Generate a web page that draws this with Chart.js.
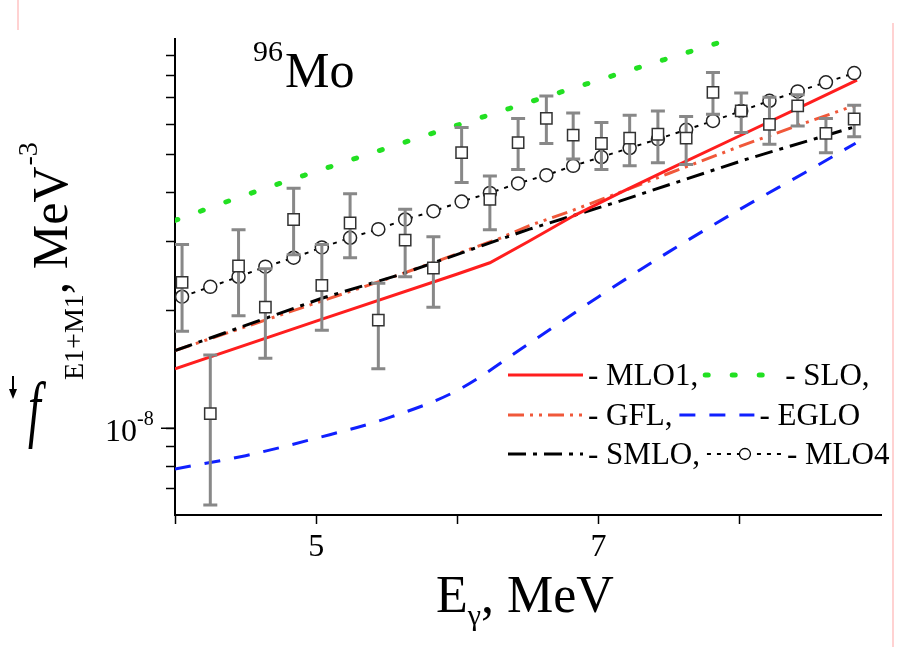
<!DOCTYPE html>
<html>
<head>
<meta charset="utf-8">
<script src="https://cdn.jsdelivr.net/npm/chart.js@4.4.1/dist/chart.umd.min.js"></script>
<style>
  html, body { margin: 0; padding: 0; background: #fff; }
  canvas { display: block; }
</style>
</head>
<body>
<canvas id="chart" width="910" height="647"></canvas>
<script>
// all strength values are in units of 1e-8 MeV^-3
const SCALE = 1e-8;

// EXPERIMENT (squares with error bars) + MLO4 (circles) share the energies
const expEnergy = [4.05, 4.25, 4.45, 4.64, 4.84, 5.04, 5.24, 5.44, 5.63, 5.83, 6.03, 6.23, 6.43,
                   6.63, 6.82, 7.02, 7.22, 7.42, 7.62, 7.81, 8.01, 8.21, 8.41, 8.61, 8.81];
const expF    = [2.36, 1.09, 2.60, 2.04, 3.42, 2.32, 3.35, 1.89, 3.03, 2.57, 5.07, 3.85, 5.38,
                 6.20, 5.62, 5.35, 5.52, 5.65, 5.52, 7.23, 6.48, 5.99, 6.68, 5.68, 6.18];
const expLow  = [1.77, 0.636, 1.94, 1.51, 2.78, 1.78, 2.73, 1.42, 2.44, 2.04, 4.25, 3.22, 4.59,
                 5.35, 4.88, 4.59, 4.69, 4.78, 4.73, 6.36, 5.71, 5.33, 5.93, 5.07, 5.57];
const expHigh = [2.95, 1.54, 3.22, 2.56, 4.11, 2.95, 3.98, 2.35, 3.63, 3.09, 5.88, 4.42, 6.20,
                 7.08, 6.40, 6.05, 6.32, 6.48, 6.27, 8.13, 7.20, 7.02, 7.13, 6.20, 6.70];
const mlo4F   = [2.17, 2.30, 2.44, 2.59, 2.73, 2.90, 3.07, 3.23, 3.42, 3.59, 3.80, 4.00, 4.23,
                 4.44, 4.69, 4.94, 5.21, 5.49, 5.80, 6.11, 6.48, 6.88, 7.27, 7.67, 8.10];

// MODEL CURVES
const mlo1E = [4.0, 5.0, 6.0, 6.23, 6.5, 6.82, 7.15, 7.5, 8.0, 8.5, 8.83];
const mlo1F = [1.42, 1.88, 2.48, 2.65, 3.00, 3.49, 4.00, 4.60, 5.60, 6.82, 7.77];

const gflE = [4.0, 5.59, 6.3, 6.51, 6.8, 7.15, 7.5, 8.0, 8.4, 8.82];
const gflF = [1.58, 2.47, 3.06, 3.30, 3.59, 4.01, 4.49, 5.26, 5.93, 6.70];

const smloE = [4.0, 5.04, 5.59, 6.3, 6.51, 7.15, 7.36, 8.05, 8.8];
const smloF = [1.58, 2.15, 2.47, 3.04, 3.23, 3.81, 4.04, 4.88, 5.88];

const egloE = [4.0, 4.5, 5.0, 5.5, 6.0, 6.5, 7.0, 7.5, 8.0, 8.5, 8.82];
const egloF = [0.787, 0.851, 0.943, 1.06, 1.25, 1.64, 2.17, 2.83, 3.63, 4.59, 5.36];

const sloE = [4.0, 4.5, 5.0, 6.0, 7.0, 8.0];
const sloF = [3.40, 3.95, 4.54, 5.96, 7.77, 10.07];

// AXES
const xMin = 4, xMax = 9;
const xTickValues = [4, 5, 6, 7, 8];
const xLabelValues = [5, 7];
const yMin = 6e-9, yMax = 9.9e-8;
const yTickValues = [7e-9, 8e-9, 9e-9, 1e-8, 2e-8, 3e-8, 4e-8, 5e-8, 6e-8, 7e-8, 8e-8, 9e-8];
const yMajorTick = 1e-8;

const SERIF = '"Liberation Serif", "Times New Roman", serif';

function pts(xs, ys) {
  return xs.map((x, i) => ({ x: x, y: ys[i] * SCALE }));
}

// legend layout: two entries per row
const legendRows = [["MLO1", "SLO"], ["GFL", "EGLO"], ["SMLO", "MLO4"]];
const legendText = {
  MLO1: "- MLO1,", SLO: "- SLO,", GFL: "- GFL,",
  EGLO: "- EGLO", SMLO: "- SMLO,", MLO4: "- MLO4"
};

// ========== ERROR BARS ==========
const errorBarPlugin = {
  id: "errorBars",
  beforeDatasetDraw(chart, args) {
    if (chart.data.datasets[args.index].label !== "exp") return;
    const ctx = chart.ctx, xs = chart.scales.x, ys = chart.scales.y;
    ctx.save();
    ctx.strokeStyle = "#888888";
    ctx.lineWidth = 3;
    for (let i = 0; i < expEnergy.length; i++) {
      const px = xs.getPixelForValue(expEnergy[i]);
      const top = ys.getPixelForValue(expHigh[i] * SCALE);
      const bot = ys.getPixelForValue(expLow[i] * SCALE);
      ctx.beginPath();
      ctx.moveTo(px, top); ctx.lineTo(px, bot);
      ctx.moveTo(px - 7, top); ctx.lineTo(px + 7, top);
      ctx.moveTo(px - 7, bot); ctx.lineTo(px + 7, bot);
      ctx.stroke();
    }
    ctx.restore();
  }
};

// ========== TEXTS, LEGEND, EXTRA TICK ==========
const decorPlugin = {
  id: "decor",
  beforeDraw(chart) {
    const ctx = chart.ctx;
    ctx.save();
    ctx.fillStyle = "#fff";
    ctx.fillRect(0, 0, chart.width, chart.height);
    ctx.restore();
  },
  afterDraw(chart) {
    const ctx = chart.ctx;
    const ca = chart.chartArea;
    const ys = chart.scales.y;
    ctx.save();
    ctx.fillStyle = "#000";
    ctx.strokeStyle = "#000";
    ctx.textBaseline = "alphabetic";

    // longer major tick + 10^-8 label
    const yMaj = ys.getPixelForValue(yMajorTick);
    ctx.lineWidth = 1.5;
    ctx.beginPath();
    ctx.moveTo(ca.left - 14, yMaj); ctx.lineTo(ca.left, yMaj);
    ctx.stroke();
    ctx.font = "32px " + SERIF;
    ctx.fillText("10", 105, yMaj + 13);
    ctx.font = "20px " + SERIF;
    ctx.fillText("-8", 137, yMaj - 3);

    // nucleus label
    ctx.font = "30px " + SERIF;
    ctx.fillText("96", 253, 61);
    ctx.font = "50px " + SERIF;
    ctx.fillText("Mo", 285, 87);

    // x title
    let tx = 436;
    ctx.font = "52px " + SERIF;
    ctx.fillText("E", tx, 612);
    tx += ctx.measureText("E").width;
    ctx.font = "30px " + SERIF;
    ctx.fillText("\u03b3", tx, 625);
    tx += ctx.measureText("\u03b3").width;
    ctx.font = "52px " + SERIF;
    ctx.fillText(", MeV", tx, 612);

    // y title: stretched italic f with arrow, then rotated rest
    ctx.save();
    ctx.translate(28, 433);
    ctx.scale(1, 1.6);
    ctx.font = "italic 46px " + SERIF;
    ctx.fillText("f", 0, 0);
    ctx.restore();
    ctx.lineWidth = 2;
    ctx.beginPath();
    ctx.moveTo(13, 376); ctx.lineTo(13, 396);
    ctx.stroke();
    ctx.beginPath();
    ctx.moveTo(13, 399); ctx.lineTo(9, 389); ctx.lineTo(17, 389); ctx.closePath();
    ctx.fill();
    ctx.save();
    ctx.translate(67, 452);
    ctx.rotate(-Math.PI / 2);
    let rx = 72;
    ctx.font = "28px " + SERIF;
    ctx.fillText("E1+M1", rx, 16);
    rx += ctx.measureText("E1+M1").width;
    ctx.font = "50px " + SERIF;
    ctx.fillText(", MeV", rx, 0);
    rx += ctx.measureText(", MeV").width;
    ctx.font = "28px " + SERIF;
    ctx.fillText("-3", rx + 1, -30);
    ctx.restore();

    // legend
    const rowY = [375, 415, 454];
    const byLabel = {};
    chart.data.datasets.forEach(d => { byLabel[d.label] = d; });
    ctx.font = "31px " + SERIF;
    legendRows.forEach((row, r) => {
      let lx = 508;
      const ly = rowY[r];
      row.forEach(name => {
        const d = byLabel[name];
        ctx.save();
        ctx.strokeStyle = d.borderColor;
        ctx.lineWidth = d.borderWidth;
        ctx.lineCap = d.borderCapStyle || "butt";
        ctx.setLineDash(d.borderDash || []);
        ctx.beginPath();
        ctx.moveTo(lx, ly); ctx.lineTo(lx + 75, ly);
        ctx.stroke();
        if (name === "MLO4") {
          ctx.setLineDash([]);
          ctx.fillStyle = "#fff";
          ctx.lineWidth = 1.3;
          ctx.beginPath();
          ctx.arc(lx + 38, ly, 5.5, 0, Math.PI * 2);
          ctx.fill(); ctx.stroke();
        }
        ctx.restore();
        lx += 80;
        ctx.fillText(legendText[name], lx, ly + 10);
        lx += ctx.measureText(legendText[name]).width + 7;
      });
    });

    // faint page edge lines of the scan
    ctx.strokeStyle = "#ffc4c4";
    ctx.lineWidth = 1.5;
    ctx.beginPath();
    ctx.moveTo(893, 23); ctx.lineTo(893, 647);
    ctx.moveTo(18, 0); ctx.lineTo(18, 30);
    ctx.stroke();
    ctx.restore();
  }
};

// ========== CHART ==========
const ctx = document.getElementById("chart").getContext("2d");
new Chart(ctx, {
  type: "line",
  data: {
    datasets: [
      {
        label: "exp",
        data: pts(expEnergy, expF),
        showLine: false,
        pointStyle: "rect",
        pointRadius: 8,
        pointBackgroundColor: "#ffffff",
        pointBorderColor: "#333333",
        pointBorderWidth: 1.5,
      },
      {
        label: "MLO4",
        data: pts(expEnergy, mlo4F),
        borderColor: "#000000",
        borderWidth: 2,
        borderDash: [4, 6],
        pointStyle: "circle",
        pointRadius: 6.5,
        pointBackgroundColor: "#ffffff",
        pointBorderColor: "#222222",
        pointBorderWidth: 1.5,
      },
      {
        label: "MLO1",
        data: pts(mlo1E, mlo1F),
        borderColor: "#ff1e1e",
        borderWidth: 3,
        pointRadius: 0,
      },
      {
        label: "SMLO",
        data: pts(smloE, smloF),
        borderColor: "#000000",
        borderWidth: 3,
        borderDash: [18, 7, 4, 7],
        pointRadius: 0,
      },
      {
        label: "GFL",
        data: pts(gflE, gflF),
        borderColor: "#f0583a",
        borderWidth: 3,
        borderDash: [16, 6, 3, 6, 3, 6],
        pointRadius: 0,
      },
      {
        label: "EGLO",
        data: pts(egloE, egloF),
        borderColor: "#1020ff",
        borderWidth: 3,
        borderDash: [16, 14],
        cubicInterpolationMode: "monotone",
        pointRadius: 0,
      },
      {
        label: "SLO",
        data: pts(sloE, sloF),
        borderColor: "#22e022",
        borderWidth: 5,
        borderDash: [3, 24],
        borderCapStyle: "round",
        cubicInterpolationMode: "monotone",
        pointRadius: 0,
      },
    ],
  },
  options: {
    responsive: false,
    animation: false,
    layout: { padding: { top: 39, right: 29, left: 0, bottom: 0 } },
    plugins: {
      legend: { display: false },
      tooltip: { enabled: false },
    },
    scales: {
      x: {
        type: "linear",
        min: xMin,
        max: xMax,
        afterBuildTicks: (scale) => { scale.ticks = xTickValues.map(v => ({ value: v })); },
        afterFit: (scale) => { scale.height = 132; },
        border: { color: "#000", width: 2 },
        grid: { drawOnChartArea: false, tickLength: 9, color: "#000", tickWidth: 1.5 },
        ticks: {
          autoSkip: false,
          maxRotation: 0,
          padding: 4,
          color: "#000",
          font: { family: SERIF, size: 32 },
          callback: (v) => (xLabelValues.includes(v) ? String(v) : ""),
        },
      },
      y: {
        type: "logarithmic",
        min: yMin,
        max: yMax,
        afterBuildTicks: (scale) => { scale.ticks = yTickValues.map(v => ({ value: v })); },
        afterFit: (scale) => { scale.width = 175; },
        border: { color: "#000", width: 2 },
        grid: { drawOnChartArea: false, tickLength: 9, color: "#000", tickWidth: 1.5 },
        ticks: { display: false },
      },
    },
  },
  plugins: [errorBarPlugin, decorPlugin],
});
</script>
</body>
</html>
